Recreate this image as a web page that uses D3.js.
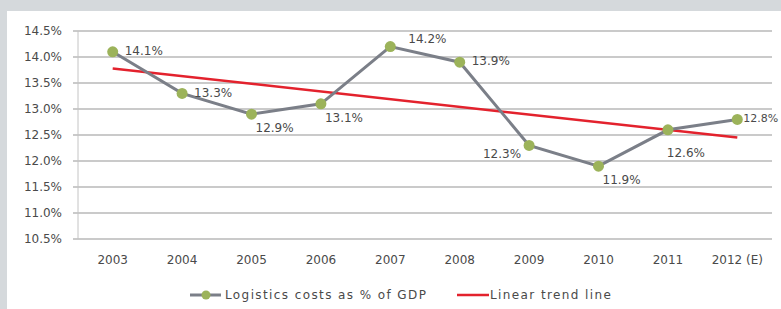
<!DOCTYPE html>
<html>
<head>
<meta charset="utf-8">
<script src="https://cdn.jsdelivr.net/npm/d3@7"></script>
<style>
  html, body { margin: 0; overflow: hidden; background: #d5d9dc; }
  svg { display: block; }
  text { font-family: "DejaVu Sans", sans-serif; fill: #4a4a4a; }
</style>
</head>
<body>
<div id="chart"></div>
<script>
// data
const years = ["2003", "2004", "2005", "2006", "2007", "2008", "2009", "2010", "2011", "2012 (E)"];
const costs = [14.1, 13.3, 12.9, 13.1, 14.2, 13.9, 12.3, 11.9, 12.6, 12.8];
const trendEnds = [13.78, 12.45];   // linear trend at first and last year
const yTicks = [10.5, 11.0, 11.5, 12.0, 12.5, 13.0, 13.5, 14.0, 14.5];
const seriesNames = ["Logistics costs as % of GDP", "Linear trend line"];
// where each value label sits relative to its point
const labelSide = ["r", "r", "br", "br", "tr", "r", "bl", "br", "b", "edge"];

const W = 781, H = 309;
const margin = {top: 31, right: 9, bottom: 70, left: 78};

const svg = d3.select("#chart").append("svg")
    .attr("width", W).attr("height", H);

// white panel
svg.append("rect")
    .attr("x", 7).attr("y", 11)
    .attr("width", W - 7).attr("height", H - 11)
    .attr("fill", "#fff");

const x = d3.scaleBand().domain(years).range([margin.left, W - margin.right]);
const y = d3.scaleLinear().domain([10.5, 14.5]).range([H - margin.bottom, margin.top]);
const cx = d => x(d) + x.bandwidth() / 2;

// gridlines
svg.append("g").selectAll("line").data(yTicks).join("line")
    .attr("x1", margin.left - 5).attr("x2", W - margin.right)
    .attr("y1", d => y(d)).attr("y2", d => y(d))
    .attr("stroke", "#b9b9b9").attr("stroke-width", 1.5);

// y axis line
svg.append("line")
    .attr("x1", margin.left).attr("x2", margin.left)
    .attr("y1", y(14.5)).attr("y2", y(10.5))
    .attr("stroke", "#c4c4c4").attr("stroke-width", 1);

// y axis labels
const yAxis = d3.axisLeft(y).tickValues(yTicks)
    .tickFormat(d => d3.format(".1f")(d) + "%").tickSize(0).tickPadding(16);
svg.append("g").attr("transform", `translate(${margin.left},0)`).call(yAxis)
    .call(g => g.select(".domain").remove())
    .selectAll("text").style("font-size", "12px").attr("fill", "#4a4a4a")
    .style("font-family", "DejaVu Sans, sans-serif");

// x axis labels
const xAxis = d3.axisBottom(x).tickSize(0).tickPadding(16);
svg.append("g").attr("transform", `translate(0,${y(10.5)})`).call(xAxis)
    .call(g => g.select(".domain").remove())
    .selectAll("text").style("font-size", "12px").attr("fill", "#4a4a4a")
    .style("font-family", "DejaVu Sans, sans-serif");

// trend line
const lastYear = years[years.length - 1];
svg.append("line")
    .attr("x1", cx(years[0])).attr("y1", y(trendEnds[0]))
    .attr("x2", cx(lastYear)).attr("y2", y(trendEnds[1]))
    .attr("stroke", "#e3222d").attr("stroke-width", 2.5);

// data line
const pts = years.map((yr, i) => ({yr, v: costs[i], side: labelSide[i]}));
svg.append("path").datum(pts)
    .attr("d", d3.line().x(d => cx(d.yr)).y(d => y(d.v)))
    .attr("fill", "none").attr("stroke", "#7b7f88").attr("stroke-width", 3);

svg.append("g").selectAll("circle").data(pts).join("circle")
    .attr("cx", d => cx(d.yr)).attr("cy", d => y(d.v))
    .attr("r", 5.5)
    .attr("fill", "#9cb35a");

// value labels
const off = {
    r:    [12, -1, "start"],
    edge: [6, -1, "start"],
    br:   [4, 14, "start"],
    tr:   [18, -8, "start"],
    bl:   [-8, 8, "end"],
    b:    [18, 23, "middle"]
};
svg.append("g").selectAll("text").data(pts).join("text")
    .attr("x", d => cx(d.yr) + off[d.side][0])
    .attr("y", d => y(d.v) + off[d.side][1])
    .attr("dy", "0.35em")
    .attr("text-anchor", d => off[d.side][2])
    .style("font-size", d => d.side === "edge" ? "11px" : "12px")
    .text(d => d.v.toFixed(1) + "%");

// legend
const lg = svg.append("g").attr("transform", "translate(0,295)");
lg.append("line").attr("x1", 190).attr("x2", 221).attr("y1", 0).attr("y2", 0)
    .attr("stroke", "#7b7f88").attr("stroke-width", 3);
lg.append("circle").attr("cx", 206).attr("cy", 0).attr("r", 4.5).attr("fill", "#9cb35a");
lg.append("text").attr("x", 225).attr("y", 0).attr("dy", "0.35em")
    .style("font-size", "12px").style("letter-spacing", "1.4px").text(seriesNames[0]);
lg.append("line").attr("x1", 457).attr("x2", 489).attr("y1", 0).attr("y2", 0)
    .attr("stroke", "#e3222d").attr("stroke-width", 2.5);
lg.append("text").attr("x", 490).attr("y", 0).attr("dy", "0.35em")
    .style("font-size", "12px").style("letter-spacing", "1.4px").text(seriesNames[1]);
</script>
</body>
</html>
